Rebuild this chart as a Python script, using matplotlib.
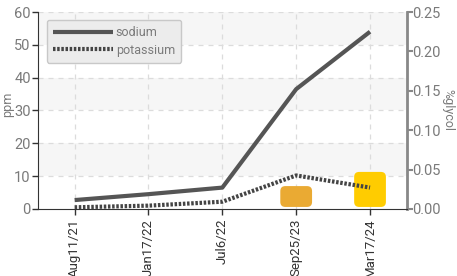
import matplotlib.pyplot as plt
import numpy as np
from matplotlib.patches import FancyBboxPatch

dates = ["Aug11/21", "Jan17/22", "Jul6/22", "Sep25/23", "Mar17/24"]
sodium = [2.7, 4.5, 6.5, 36.5, 54.0]
potassium = [0.5, 1.0, 2.2, 10.2, 6.5]
glycol_dates = ["Sep25/23", "Mar17/24"]
glycol = [0.029, 0.047]
glycol_colors = ["#eaaa33", "#ffcc00"]

plt.rcParams["font.family"] = ["Roboto", "DejaVu Sans"]
label_color = "#7a7a7a"
grid_color = "#dcdcdc"

fig = plt.figure(figsize=(4.57, 2.76), dpi=100)
ax = fig.add_axes([0.0825, 0.243, 0.808, 0.7135])
ax2 = ax.twinx()

x = np.arange(len(dates))
ppm_max, gly_max = 60, 0.25
ax.set_xlim(-0.5, len(dates) - 0.5)
ax.set_ylim(0, ppm_max)
ax2.set_ylim(0, gly_max)
to_gly = gly_max / ppm_max

# background (on the secondary axes so bars sit on top of it)
for lo in (10, 30, 50):
    ax2.axhspan(lo * to_gly, (lo + 10) * to_gly, color="#f6f6f6", zorder=0, lw=0)
for v in range(10, ppm_max + 1, 10):
    ax2.axhline(v * to_gly, color=grid_color, ls=(0, (4, 4)), lw=0.9, zorder=0.5)
for xi in x:
    ax2.axvline(xi, color=grid_color, ls=(0, (4, 4)), lw=0.9, zorder=0.5)

# glycol bars with rounded corners
bbox = ax2.get_position()
px_w = fig.get_figwidth() * fig.dpi * bbox.width
px_h = fig.get_figheight() * fig.dpi * bbox.height
x_per_px = 5 / px_w
y_per_px = gly_max / px_h
aspect = y_per_px / x_per_px
bar_w = 0.43
gap = 2 * y_per_px
for d, v, c in zip(glycol_dates, glycol, glycol_colors):
    xi = dates.index(d)
    ax2.add_patch(FancyBboxPatch(
        (xi - bar_w / 2, gap), bar_w, v - gap,
        boxstyle=f"round,pad=0,rounding_size={5 * x_per_px}",
        mutation_aspect=aspect, facecolor=c, edgecolor="none", zorder=1))

ax.plot(x, sodium, color="#555555", lw=3, label="sodium", zorder=3,
        solid_capstyle="butt")
ax.plot(x, potassium, color="#444444", lw=3, linestyle=(0, (0.6, 0.4)),
        label="potassium", zorder=3)
ax.set_zorder(ax2.get_zorder() + 1)
ax.patch.set_visible(False)
ax2.patch.set_visible(True)
ax2.patch.set_facecolor("white")

ax.set_xticks(x)
ax.set_xticklabels(dates, rotation=90, color=label_color, fontsize=9.5)
ax.set_yticks(np.arange(0, ppm_max + 1, 10))
ax.tick_params(axis="y", colors="#333333", labelcolor=label_color,
               labelsize=10.5, length=4, width=1, pad=1)
ax.tick_params(axis="x", colors="#333333", length=4, width=1, pad=3)
ax2.set_yticks(np.arange(0, 0.26, 0.05))
ax2.set_yticklabels([f"{v:.2f}" for v in np.arange(0, 0.26, 0.05)])
ax2.tick_params(axis="y", colors="#888888", labelcolor=label_color,
                labelsize=10.5, length=4, width=1.5, pad=0)

for a in (ax, ax2):
    a.spines["top"].set_visible(False)
ax.spines["left"].set_color("#333333")
ax.spines["bottom"].set_color("#333333")
ax.spines["right"].set_visible(False)
ax2.spines["left"].set_visible(False)
ax2.spines["bottom"].set_visible(False)
ax2.spines["right"].set_color("#888888")
ax2.spines["right"].set_linewidth(2)

ax.set_ylabel("ppm", color=label_color, fontsize=9, va="center")
ax.yaxis.set_label_coords(-0.082, 0.53)
ax2.set_ylabel("%glycol", color=label_color, fontsize=9, rotation=270,
               va="center")
ax2.yaxis.set_label_coords(1.11, 0.5)

leg = ax.legend(loc="upper left", bbox_to_anchor=(0.025, 0.96), fontsize=9,
                handlelength=4.8, handletextpad=0.2, labelspacing=0.35,
                borderpad=0.5, borderaxespad=0, fancybox=True, framealpha=1)
leg.get_frame().set_facecolor("#ececec")
leg.get_frame().set_edgecolor("#c8c8c8")
for t in leg.get_texts():
    t.set_color(label_color)

fig.savefig("out.png", dpi=100)
